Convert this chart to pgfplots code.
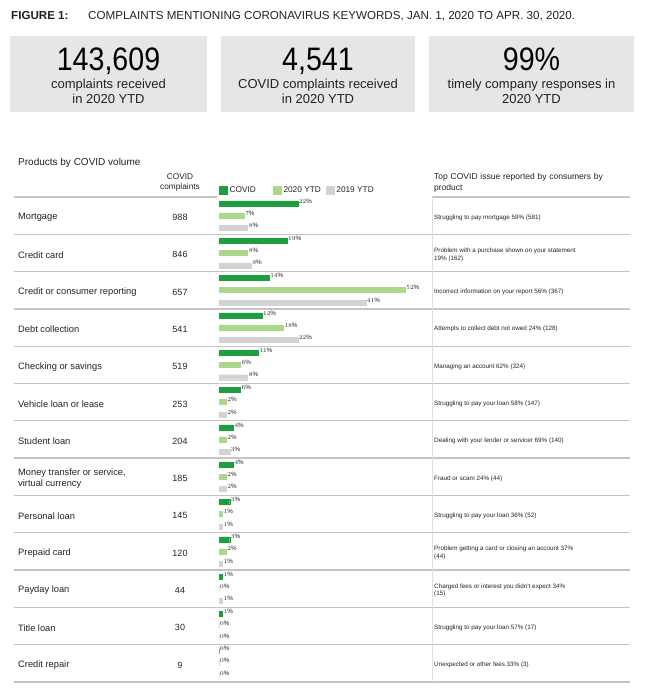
\documentclass[border=0pt]{standalone}
\usepackage{pgfplots}
\pgfplotsset{compat=1.18}
\usepackage{pgfplotstable}
\usepackage{fontspec}
\setmainfont{Liberation Sans}
\newfontfamily\narrowfont{Liberation Sans}[FakeStretch=0.88]
\definecolor{covid}{HTML}{1F9E3F}
\definecolor{ytdA}{HTML}{ADD68E}
\definecolor{ytdB}{HTML}{D3D3D3}
\definecolor{boxgray}{HTML}{E6E6E8}
\definecolor{sepgray}{HTML}{C4C4C4}
\definecolor{txt}{HTML}{222222}

% row: 0 = Mortgage ... 12 = Credit repair ; shares in percent
\pgfplotstableread{
row covid ytdA ytdB
0  22 7  8
1  19 8  9
2  14 52 41
3  12 18 22
4  11 6  8
5  6  2  2
6  4  2  3
7  4  2  2
8  3  1  1
9  3  2  1
10 1  0  1
11 1  0  0
12 0  0  0
}\shares

\newcommand{\fs}[1]{\fontsize{#1}{1.2\dimexpr#1pt\relax}\selectfont}

\begin{document}
\begin{tikzpicture}[x=1pt,y=1pt]
\path[use as bounding box] (0,0) rectangle (649,-698);

% title
\node[anchor=base west,inner sep=0,font=\fs{11.6}\bfseries,text=txt] at (11,-20) {FIGURE 1:};
\node[anchor=base west,inner sep=0,font=\fs{11.6},text=txt] at (88,-20) {COMPLAINTS MENTIONING CORONAVIRUS KEYWORDS, JAN. 1, 2020 TO APR. 30, 2020.};

% summary boxes
\fill[boxgray] (10,-36) rectangle (207,-112);
\fill[boxgray] (221,-36) rectangle (415,-112);
\fill[boxgray] (429,-36) rectangle (634,-112);
\foreach \cx/\num/\la/\lb in {108.5/{143,609}/{complaints received}/{in 2020 YTD},
                               318/{4,541}/{COVID complaints received}/{in 2020 YTD},
                               531.5/{99\%}/{timely company responses in}/{2020 YTD}}{
  \node[anchor=base,inner sep=0,font=\narrowfont\fs{32.5},text=black] at (\cx,-70.5) {\num};
  \node[anchor=base,inner sep=0,font=\fs{13},text=txt] at (\cx,-89) {\la};
  \node[anchor=base,inner sep=0,font=\fs{13},text=txt] at (\cx,-104) {\lb};
}

% table headers
\node[anchor=west,inner sep=0,font=\fs{10},text=txt] at (18,-163) {Products by COVID volume};
\node[align=center,inner sep=0,font=\fs{8.3},text=txt] at (180,-182) {COVID\\complaints};
\node[anchor=north west,align=left,text width=180pt,inner sep=0,font=\fs{8.5},text=txt] at (434,-173.5) {Top COVID issue reported by consumers by product};

% separators
\draw[sepgray,line width=1.3pt] (14,-197) -- (217,-197);
\draw[sepgray,line width=1.3pt] (432,-197) -- (630,-197);
\foreach \k in {1,...,13}{
  \draw[sepgray,line width=1.3pt] (14,{-197-37.3*\k}) -- (630,{-197-37.3*\k});
}
\draw[black!12,line width=0.5pt] (432,-197) -- (432,-682);

% row texts
\foreach \i/\name/\n/\issue in {
  0/{Mortgage}/988/{Struggling to pay mortgage 59\% (581)},
  1/{Credit card}/846/{Problem with a purchase shown on your statement\\19\% (162)},
  2/{Credit or consumer reporting}/657/{Incorrect information on your report 56\% (367)},
  3/{Debt collection}/541/{Attempts to collect debt not owed 24\% (128)},
  4/{Checking or savings}/519/{Managing an account 62\% (324)},
  5/{Vehicle loan or lease}/253/{Struggling to pay your loan 58\% (147)},
  6/{Student loan}/204/{Dealing with your lender or servicer 69\% (140)},
  7/{Money transfer or service,\\virtual currency}/185/{Fraud or scam 24\% (44)},
  8/{Personal loan}/145/{Struggling to pay your loan 36\% (52)},
  9/{Prepaid card}/120/{Problem getting a card or closing an account 37\%\\(44)},
  10/{Payday loan}/44/{Charged fees or interest you didn't expect 34\%\\(15)},
  11/{Title loan}/30/{Struggling to pay your loan 57\% (17)},
  12/{Credit repair}/9/{Unexpected or other fees 33\% (3)}}{
  \pgfmathsetmacro{\yc}{-197-37.3*\i-20.4}
  \node[anchor=west,align=left,inner sep=0,font=\fs{9.3},text=txt] at (18,\yc) {\name};
  \node[inner sep=0,font=\fs{9},text=txt] at (180,\yc) {\n};
  \node[anchor=west,align=left,inner sep=0,font=\fs{6.3},text=txt] at (434,\yc) {\issue};
}

\begin{axis}[
  at={(219pt,-682pt)}, anchor=south west,
  width=214.8pt, height=485pt, scale only axis,
  xmin=0, xmax=60, ymin=0, ymax=13,
  hide axis, clip=false,
  xbar, bar width=5pt,
  point meta=x,
  nodes near coords={\pgfmathprintnumber{\pgfplotspointmeta}\%},
  every node near coord/.append style={anchor=west,font=\fs{6.3},text=txt,inner sep=1pt,yshift=2.5pt},
  legend columns=3,
  legend style={at={(axis description cs:0,1)},anchor=west,yshift=7pt,
    draw=none,fill=none,inner sep=0pt,font=\fs{8.3},text=txt,
    /tikz/every even column/.append style={column sep=0pt}},
  legend image code/.code={\fill[#1] (0pt,-4pt) rectangle (8pt,4pt);},
]
\addplot[fill=covid,draw=covid,line width=0.4pt,bar shift=0pt]
  table[x=covid, y expr={13-\thisrow{row}-0.174}] {\shares};
\addlegendentry{\makebox[41.5pt][l]{COVID}}
\addplot[fill=ytdA,draw=ytdA,line width=0.4pt,bar shift=0pt]
  table[x=ytdA, y expr={13-\thisrow{row}-0.496}] {\shares};
\addlegendentry{\makebox[40.5pt][l]{2020 YTD}}
\addplot[fill=ytdB,draw=ytdB,line width=0.4pt,bar shift=0pt]
  table[x=ytdB, y expr={13-\thisrow{row}-0.831}] {\shares};
\addlegendentry{\makebox[40pt][l]{2019 YTD}}
\end{axis}
\end{tikzpicture}
\end{document}
